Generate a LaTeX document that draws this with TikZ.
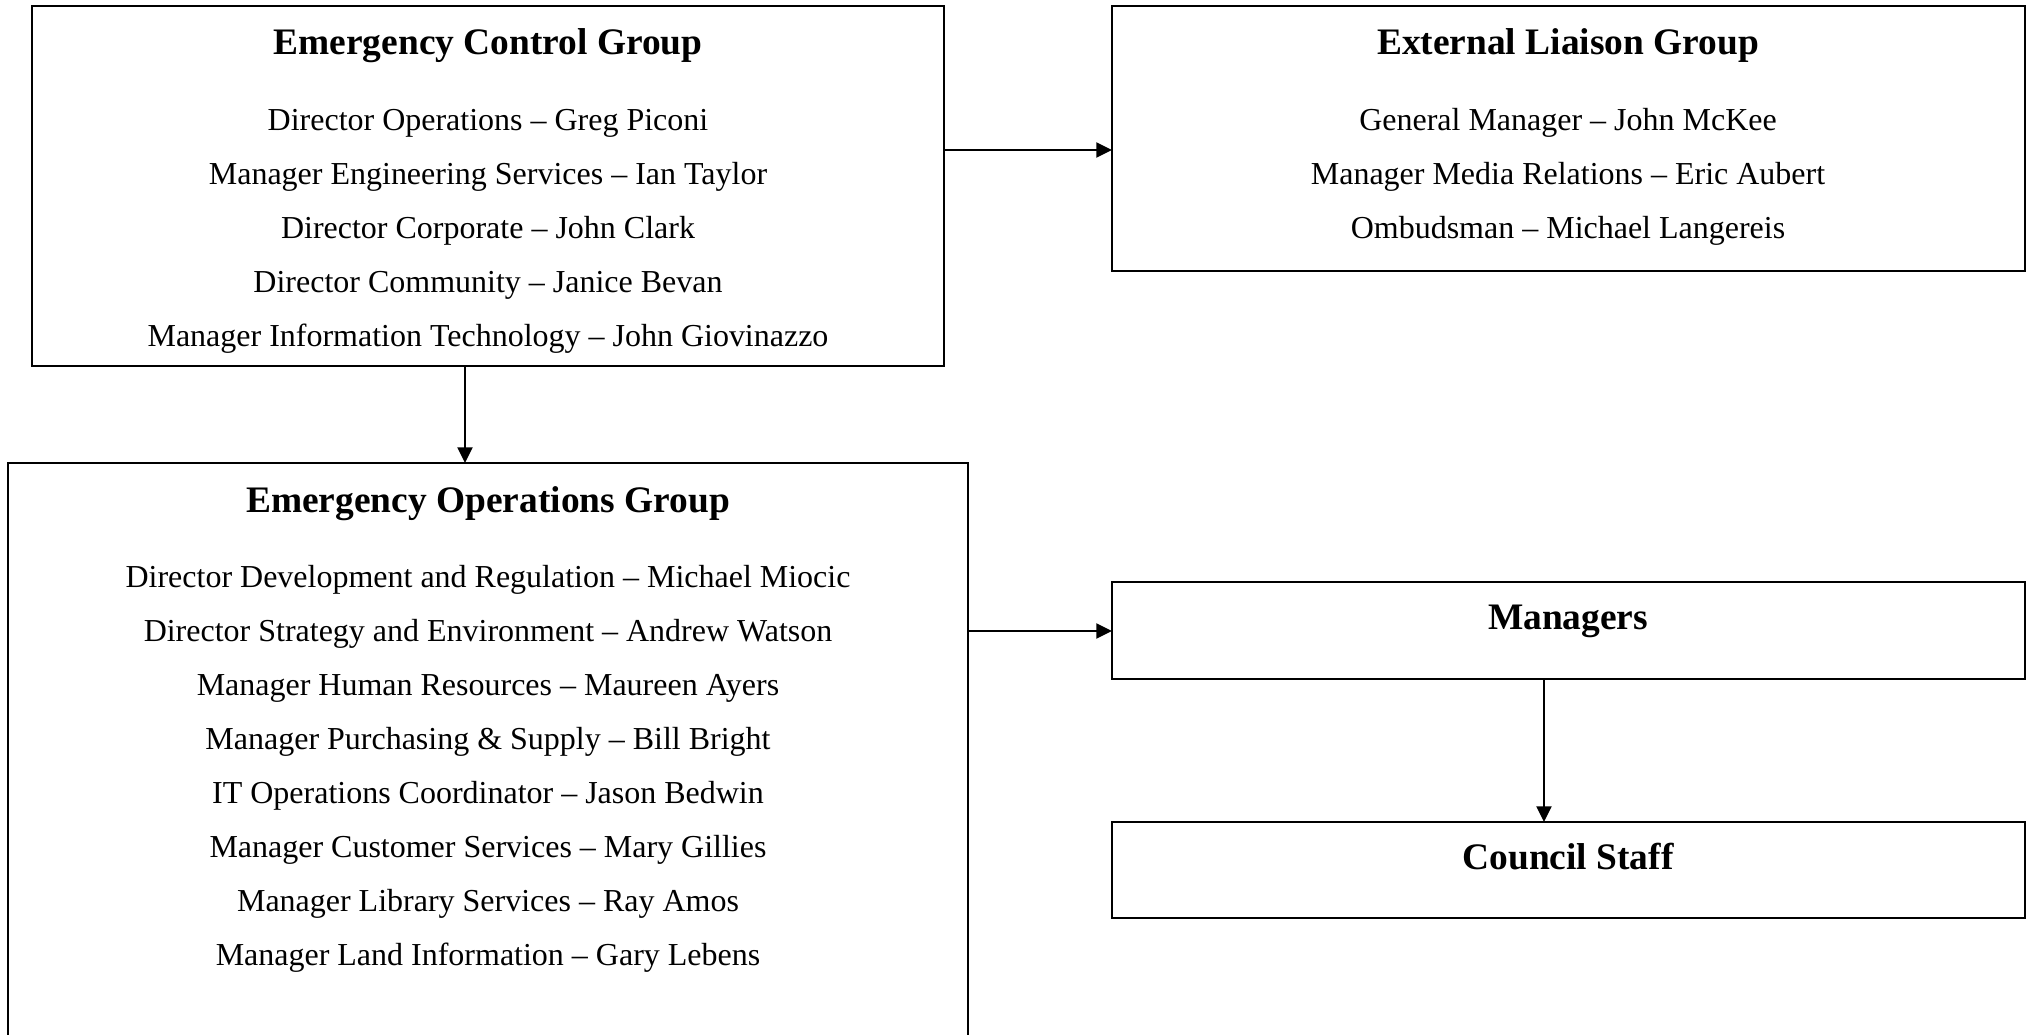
\documentclass[tikz,border=0pt]{standalone}
\usepackage{fontspec}
\setmainfont{Liberation Serif}
\usetikzlibrary{arrows.meta}
\def\u{0.433pt}
\tikzset{
  box/.style={draw=black, line width=1pt, fill=none, rectangle, inner sep=0pt, outer sep=0pt, anchor=north west},
  ttl/.style={anchor=base, inner sep=0pt, font=\fontsize{16.2}{19}\selectfont\bfseries},
  txt/.style={anchor=base, inner sep=0pt, font=\fontsize{13.85}{16}\selectfont},
  arr/.style={line width=0.9pt, -{Triangle[length=6.8pt, width=6.5pt]}}
}
\begin{document}
\begin{tikzpicture}[x=0.433pt, y=-0.433pt]
\useasboundingbox (0,0) rectangle (2031,1034);
\clip (0,0) rectangle (2031,1034);
\fill[white] (0,0) rectangle (2031,1034);
% boxes
\node[box, minimum width=912*\u, minimum height=360*\u] (ecg) at (32,6) {};
\node[box, minimum width=913*\u, minimum height=265*\u] (elg) at (1112,6) {};
\node[box, minimum width=960*\u, minimum height=700*\u] (eog) at (8,463) {};
\node[box, minimum width=913*\u, minimum height=97*\u] (mgr) at (1112,582) {};
\node[box, minimum width=913*\u, minimum height=96*\u] (cst) at (1112,822) {};
% ECG text
\node[ttl] (ecgt) at (488,54) {Emergency Control Group};
\node[txt] (ecg1) at (488,130) {Director Operations – Greg Piconi};
\node[txt] (ecg2) at (488,184) {Manager Engineering Services – Ian Taylor};
\node[txt] (ecg3) at (488,238) {Director Corporate – John Clark};
\node[txt] (ecg4) at (488,292) {Director Community – Janice Bevan};
\node[txt] (ecg5) at (488,346) {Manager Information Technology – John Giovinazzo};
% ELG text
\node[ttl] (elgt) at (1568,54) {External Liaison Group};
\node[txt] (elg1) at (1568,130) {General Manager – John McKee};
\node[txt] (elg2) at (1568,184) {Manager Media Relations – Eric Aubert};
\node[txt] (elg3) at (1568,238) {Ombudsman – Michael Langereis};
% EOG text
\node[ttl] (eogt) at (488,512) {Emergency Operations Group};
\node[txt] (eog1) at (488,587) {Director Development and Regulation – Michael Miocic};
\node[txt] (eog2) at (488,641) {Director Strategy and Environment – Andrew Watson};
\node[txt] (eog3) at (488,695) {Manager Human Resources – Maureen Ayers};
\node[txt] (eog4) at (488,749) {Manager Purchasing \& Supply – Bill Bright};
\node[txt] (eog5) at (488,803) {IT Operations Coordinator – Jason Bedwin};
\node[txt] (eog6) at (488,857) {Manager Customer Services – Mary Gillies};
\node[txt] (eog7) at (488,911) {Manager Library Services – Ray Amos};
\node[txt] (eog8) at (488,965) {Manager Land Information – Gary Lebens};
% Managers / Council
\node[ttl] (mgrt) at (1568,629) {Managers};
\node[ttl] (cstt) at (1568,869) {Council Staff};
% connectors
\coordinate (y1) at (0,150);
\coordinate (x2) at (465,0);
\coordinate (y3) at (0,631);
\coordinate (x4) at (1544,0);
\draw[arr] (ecg.east |- y1) -- (elg.west |- y1);
\draw[arr] (ecg.south -| x2) -- (eog.north -| x2);
\draw[arr] (eog.east |- y3) -- (mgr.west |- y3);
\draw[arr] (mgr.south -| x4) -- (cst.north -| x4);
\end{tikzpicture}
\end{document}
